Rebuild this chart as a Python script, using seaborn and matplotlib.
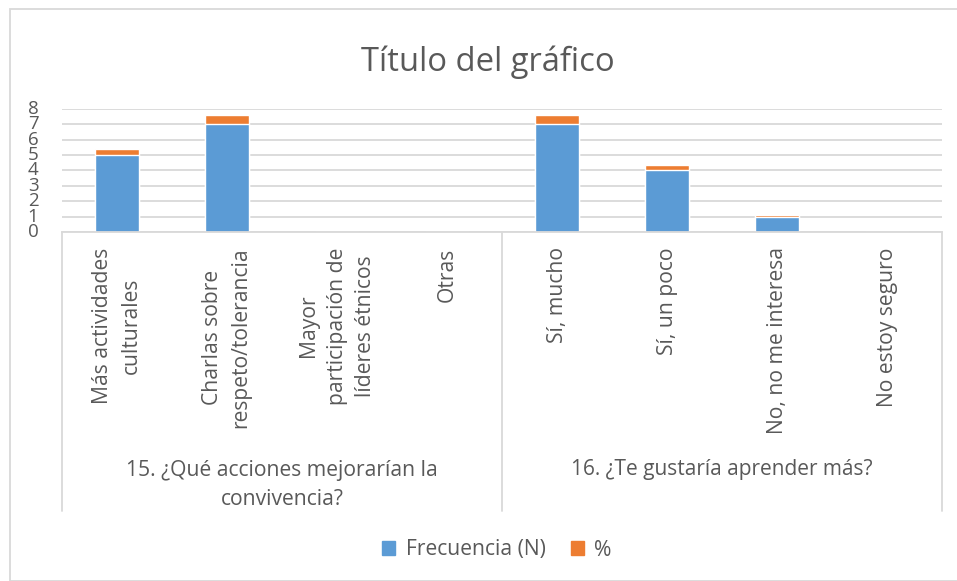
import pandas as pd
import numpy as np
import seaborn as sns
import matplotlib.pyplot as plt
from matplotlib.patches import Patch, Rectangle
from matplotlib.lines import Line2D

# datos
categorias = ["Más actividades\nculturales", "Charlas sobre\nrespeto/tolerancia",
              "Mayor\nparticipación de\nlíderes étnicos", "Otras",
              "Sí, mucho", "Sí, un poco", "No, no me interesa", "No estoy seguro"]
frecuencia = [5, 7, 0, 0, 7, 4, 1, 0]
porcentaje = [0.42, 0.58, 0, 0, 0.58, 0.33, 0.08, 0]
preguntas = ["15. ¿Qué acciones mejorarían la\nconvivencia?", "16. ¿Te gustaría aprender más?"]
y_ticks = [0, 1, 2, 3, 4, 5, 6, 7, 8]

df = pd.DataFrame({"cat": categorias, "N": frecuencia, "pct": porcentaje})
df["total"] = df["N"] + df["pct"]

sns.set_style("white")
plt.rcParams["font.family"] = ["Open Sans", "DejaVu Sans"]
gris = "#595959"
azul = "#5B9BD5"
naranja = "#ED7D31"

W, H = 957, 581
fig = plt.figure(figsize=(W / 100, H / 100), dpi=100)
x0, x1, y0, y1 = 62, 942, 232, 109
ax = fig.add_axes([x0 / W, 1 - y0 / H, (x1 - x0) / W, (y0 - y1) / H])

# barras apiladas: total en naranja, frecuencia encima en azul
sns.barplot(x="cat", y="total", data=df, color=naranja, width=0.4, ax=ax, saturation=1)
sns.barplot(x="cat", y="N", data=df, color=azul, width=0.4, ax=ax, saturation=1)

ax.set_ylim(0, 8)
ax.set_xlim(-0.5, 7.5)
ax.set_yticks(y_ticks)
ax.yaxis.grid(True, color="#d9d9d9", linewidth=1.3)
ax.set_axisbelow(True)
for s in ["top", "right", "left"]:
    ax.spines[s].set_visible(False)
ax.spines["bottom"].set_color("#d9d9d9")
ax.spines["bottom"].set_linewidth(1.3)
ax.set_xlabel("")
ax.set_ylabel("")
ax.tick_params(axis="y", length=0, pad=17, labelsize=13.5, labelcolor=gris)
ax.tick_params(axis="x", length=0, pad=11, labelsize=15.2, labelcolor=gris)
for lab in ax.get_yticklabels():
    lab.set_va("center")
for lab in ax.get_xticklabels():
    lab.set_rotation(90)
    lab.set_va("top")
    lab.set_ha("center")
    lab.set_multialignment("center")
    lab.set_linespacing(1.45)

# lineas de grupo
tr = ax.get_xaxis_transform()
y_fin = -(511 - y0) / (y0 - y1)
for xv in [-0.5, 3.5, 7.5]:
    ax.add_line(Line2D([xv, xv], [0, y_fin], transform=tr, color="#d9d9d9",
                       linewidth=1.3, clip_on=False))
ax.text(1.5, -(485 - y0) / (y0 - y1), preguntas[0], transform=tr, ha="center", va="center",
        fontsize=15.2, color=gris, linespacing=1.45)
ax.text(5.5, -(470 - y0) / (y0 - y1), preguntas[1], transform=tr, ha="center", va="center",
        fontsize=15, color=gris)

fig.text(488 / W, 1 - 62 / H, "Título del gráfico", ha="center", va="center",
         fontsize=23.6, color=gris)

handles = [Patch(color=azul, label="Frecuencia (N)"), Patch(color=naranja, label="%")]
fig.legend(handles=handles, loc="center", bbox_to_anchor=(497 / W, 1 - 550 / H), ncol=2,
           frameon=False, fontsize=15.2, handlelength=0.6, handleheight=0.6,
           handletextpad=0.5, columnspacing=1.2, labelcolor=gris)

fig.patches.append(Rectangle((10 / W, 0), 1, 1 - 9 / H, transform=fig.transFigure,
                             fill=False, edgecolor="#d9d9d9", linewidth=1.3))

fig.savefig("out.png", dpi=100)
